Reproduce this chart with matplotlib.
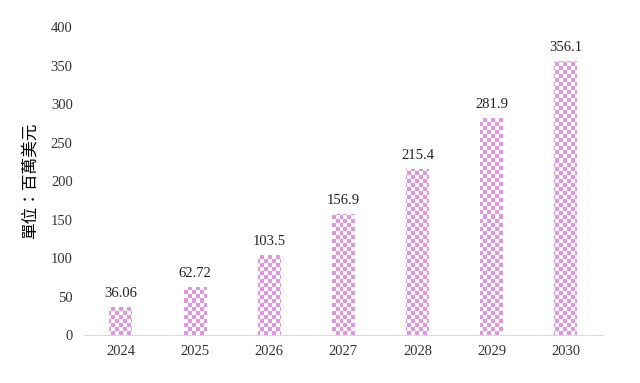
import numpy as np
import matplotlib.pyplot as plt

years = ["2024", "2025", "2026", "2027", "2028", "2029", "2030"]
values = [36.06, 62.72, 103.5, 156.9, 215.4, 281.9, 356.1]
value_labels = ["36.06", "62.72", "103.5", "156.9", "215.4", "281.9", "356.1"]
yticks = [0, 50, 100, 150, 200, 250, 300, 350, 400]

pink = "#e196de"

plt.rcParams['font.family'] = ['Liberation Serif', 'Noto Sans CJK TC']

fig = plt.figure(figsize=(6.4, 3.83), dpi=100)
ax = fig.add_axes([0.131, 0.125, 0.811, 0.8045])

x = np.arange(len(years))
bars = ax.bar(x, values, width=0.31, color="white", edgecolor="none", zorder=2)

ax.set_xlim(-0.5, len(years) - 0.5)
ax.set_ylim(0, 400)

# checkerboard fill (about 4px cells), clipped to each bar
nx, ny = 130, 77
yy, xx = np.mgrid[0:ny, 0:nx]
checker = ((xx + yy) % 2).astype(float)
cmap = plt.matplotlib.colors.ListedColormap(["white", pink])
for b in bars:
    im = ax.imshow(checker, cmap=cmap, extent=[0, 1, 0, 1], transform=ax.transAxes,
                   interpolation="nearest", aspect="auto", origin="lower", zorder=3)
    im.set_clip_path(b)

for xi, v, lab in zip(x, values, value_labels):
    ax.annotate(lab, (xi, v), xytext=(0, 5), textcoords="offset points",
                ha="center", va="bottom", fontsize=10.5, color="#222222")

ax.set_xticks(x)
ax.set_xticklabels(years, fontsize=10.5, color="#333333")
ax.set_yticks(yticks)
ax.set_yticklabels([str(t) for t in yticks], fontsize=10.5, color="#333333")
ax.tick_params(length=0, pad=7)
ax.tick_params(axis="y", pad=8)

for s in ["top", "right", "left"]:
    ax.spines[s].set_visible(False)
ax.spines["bottom"].set_color("#d9d9d9")

ax.set_ylabel("單位：百萬美元", fontsize=12, family=["Noto Sans CJK TC"], labelpad=8)

fig.savefig("out.png", dpi=100)
